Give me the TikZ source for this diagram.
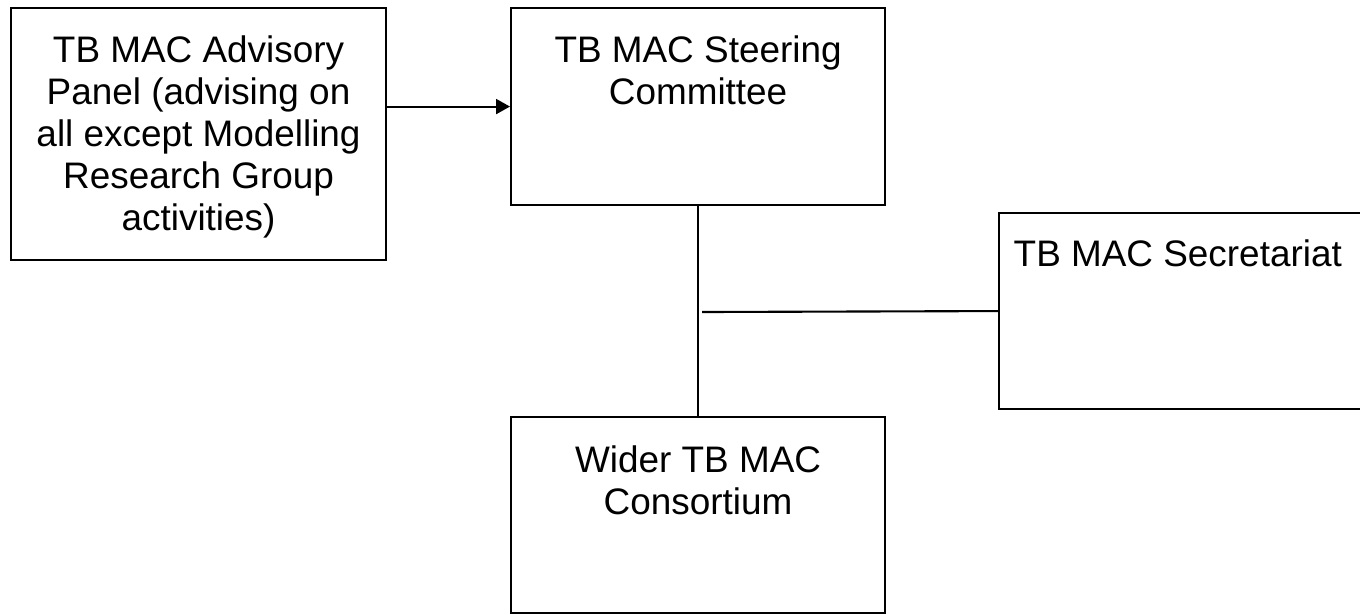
\documentclass[tikz,border=0pt]{standalone}
\usepackage{fontspec}
\setmainfont{Liberation Sans}
\usetikzlibrary{positioning, arrows.meta}

\begin{document}
\begin{tikzpicture}[
    panel/.style={draw, line width=0.6pt, anchor=north west, inner sep=0pt},
    txt/.style={font=\fontsize{10.5}{11.95}\selectfont, align=center, anchor=north, inner sep=0pt},
    link/.style={line width=0.6pt}
]
\useasboundingbox (0,0) rectangle (13.6,-6.14);
\node[panel, minimum width=3.75cm, minimum height=2.52cm] (advisory) at (0.10,-0.07) {};
\node[panel, minimum width=3.74cm, minimum height=1.97cm] (steering) at (5.10,-0.07) {};
\node[panel, minimum width=3.80cm, minimum height=1.96cm] (secretariat) at (9.98,-2.12) {};
\node[panel, minimum width=3.74cm, minimum height=1.96cm] (consortium) at (5.10,-4.16) {};
% texte
\node[txt] (advisorytxt) at ([yshift=-0.28cm]advisory.north) {TB MAC Advisory\\Panel (advising on\\all except Modelling\\Research Group\\activities)};
\node[txt] (steeringtxt) at ([yshift=-0.28cm]steering.north) {TB MAC Steering\\Committee};
\node[txt, anchor=north west] (secretariattxt) at ([xshift=0.15cm, yshift=-0.27cm]secretariat.north west) {TB MAC Secretariat};
\node[txt] (consortiumtxt) at ([yshift=-0.29cm]consortium.north) {Wider TB MAC\\Consortium};
\coordinate (tee) at (7.02,-3.12);
\draw[link, -{Triangle[length=1.4mm, width=1.5mm]}] (advisory.east |- steering.west) -- (steering.west);
\draw[link] (steering.south) -- (consortium.north);
\draw[link] (tee) -- (secretariat.west);
\end{tikzpicture}
\end{document}
